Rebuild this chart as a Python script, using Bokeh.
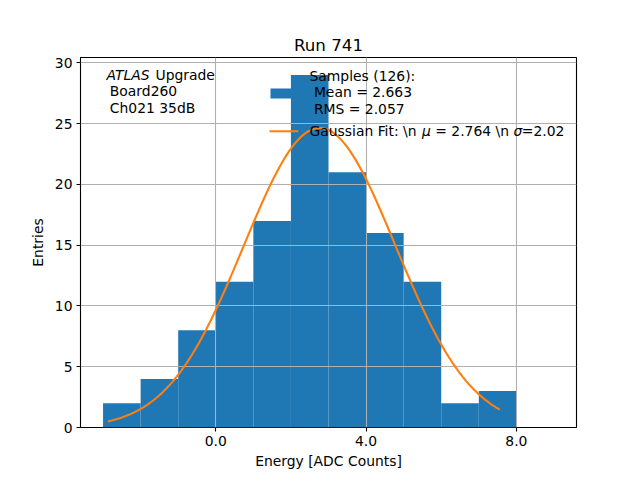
import numpy as np
from bokeh.plotting import figure
from bokeh.models import Range1d, FixedTicker, Label, BoxAnnotation
from bokeh.embed import file_html
from bokeh.resources import INLINE

# ---- data ----
bin_edges = [-3, -2, -1, 0, 1, 2, 3, 4, 5, 6, 7, 8, 9]
counts = [2, 4, 8, 12, 17, 29, 21, 16, 12, 2, 3, 0]
fit_mu = 2.764
fit_sigma = 2.02
fit_amp = 24.65
fit_x_min = -2.87
fit_x_max = 7.56
x_ticks = [0, 4, 8]
x_tick_labels = ["0.0", "4.0", "8.0"]
y_ticks = [0, 5, 10, 15, 20, 25, 30]

BLUE = "#1f77b4"
ORANGE = "#ff7f0e"
FONT = "DejaVu Sans"
FS = "13.9px"

p = figure(frame_width=496, frame_height=370,
           min_border_left=80, min_border_right=64,
           min_border_top=57, min_border_bottom=53,
           x_range=Range1d(-3.6, 9.6), y_range=Range1d(0, 30.45),
           output_backend="svg", toolbar_location=None,
           title="Run 741")
p.background_fill_color = "white"
p.border_fill_color = "white"
p.outline_line_color = "black"
p.outline_line_width = 1.1

p.title.text_font = FONT
p.title.text_font_size = "16.7px"
p.title.text_font_style = "normal"
p.title.text_color = "black"
p.title.align = "center"
p.title.standoff = 6

bars = p.quad(left=bin_edges[:-1], right=bin_edges[1:], bottom=0, top=counts,
              fill_color=BLUE, line_color=None)
bars.level = "underlay"

gx = np.linspace(fit_x_min, fit_x_max, 300)
gy = fit_amp * np.exp(-0.5 * ((gx - fit_mu) / fit_sigma) ** 2)
fit_line = p.line(gx, gy, line_color=ORANGE, line_width=2.1)
fit_line.level = "annotation"

p.xaxis.ticker = FixedTicker(ticks=x_ticks)
p.xaxis.major_label_overrides = {t: l for t, l in zip(x_ticks, x_tick_labels)}
p.yaxis.ticker = FixedTicker(ticks=y_ticks)

for ax in (p.xaxis, p.yaxis):
    ax.axis_line_color = None
    ax.major_tick_line_color = "black"
    ax.major_tick_line_width = 1.1
    ax.major_tick_out = 4
    ax.major_tick_in = 0
    ax.minor_tick_line_color = None
    ax.major_label_text_font = FONT
    ax.major_label_text_font_size = FS
    ax.major_label_text_color = "black"
    ax.major_label_standoff = 4
    ax.axis_label_text_font = FONT
    ax.axis_label_text_font_size = FS
    ax.axis_label_text_font_style = "normal"
    ax.axis_label_text_color = "black"
p.xaxis.axis_label = "Energy [ADC Counts]"
p.yaxis.axis_label = "Entries"
p.xaxis.axis_label_standoff = 4
p.yaxis.axis_label_standoff = 6

for g in (p.xgrid, p.ygrid):
    g.grid_line_color = "#b0b0b0"
    g.grid_line_width = 1.1
    g.level = "glyph"
p.xgrid.ticker = FixedTicker(ticks=x_ticks)
p.ygrid.ticker = FixedTicker(ticks=y_ticks)

def lab(x, y, text, style="normal"):
    p.add_layout(Label(x=x, y=y, text=text, text_font=FONT, text_font_size=FS,
                       text_font_style=style, text_color="black",
                       text_baseline="alphabetic", text_align="left"))

# top-left annotation
lab(-2.908, 29.05, "ATLAS", "italic")
lab(-1.604, 29.05, "Upgrade")
lab(-2.82, 27.67, "Board260")
lab(-2.82, 26.31, "Ch021 35dB")

# legend
p.add_layout(BoxAnnotation(left=1.456, right=2.202, bottom=27.08, top=27.90,
                           fill_color=BLUE, fill_alpha=1.0, line_color=None))
p.add_layout(BoxAnnotation(left=1.43, right=2.20, bottom=24.30, top=24.47,
                           fill_color=ORANGE, fill_alpha=1.0, line_color=None))
lab(2.494, 28.93, "Samples (126):")
lab(2.611, 27.57, "Mean = 2.663")
lab(2.611, 26.19, "RMS = 2.057")
lab(2.494, 24.38, "Gaussian Fit: \\n")
lab(5.488, 24.38, "\u03bc", "italic")
lab(5.842, 24.38, "= 2.764 \\n")
lab(7.921, 24.38, "\u03c3", "italic")
lab(8.144, 24.38, "=2.02")

open("out.html", "w").write(file_html(p, INLINE))
